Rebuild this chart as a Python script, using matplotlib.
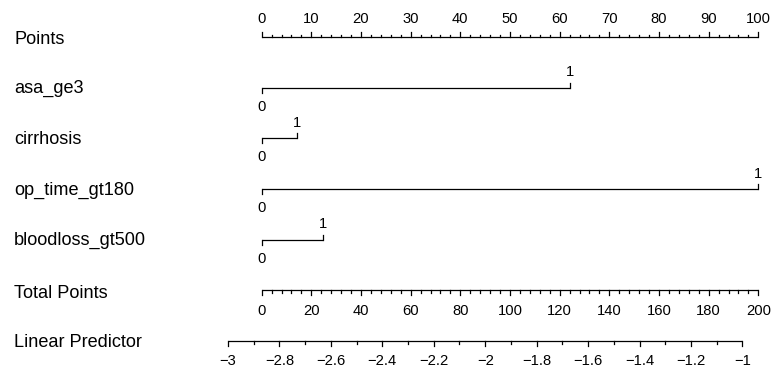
import matplotlib
matplotlib.use("Agg")
import matplotlib.pyplot as plt
import numpy as np

# ---- data ----
row_labels = ["Points", "asa_ge3", "cirrhosis", "op_time_gt180", "bloodloss_gt500",
              "Total Points", "Linear Predictor"]
variables = ["asa_ge3", "cirrhosis", "op_time_gt180", "bloodloss_gt500"]
levels = ["0", "1"]
points_at_level1 = [62.1, 7.2, 100.0, 12.4]

points_major = list(range(0, 101, 10))
points_minor = list(range(0, 101, 2))
total_major = list(range(0, 201, 20))
total_minor = list(range(0, 201, 4))
total_max = 200
lp_major = [-3.0, -2.8, -2.6, -2.4, -2.2, -2.0, -1.8, -1.6, -1.4, -1.2, -1.0]
lp_minor = [round(-3.0 + 0.1 * k, 1) for k in range(21)]
lp_at_total0 = -2.869
lp_per_total_point = 0.009654

# ---- layout ----
W, H, DPI = 783, 376, 100
fig = plt.figure(figsize=(W / DPI, H / DPI), dpi=DPI)
ax = fig.add_axes([0, 0, 1, 1])
ax.axis("off")

x0_px, px_per_point = 261.7, 4.966
ax.set_xlim(-x0_px / px_per_point, (W - x0_px) / px_per_point)
row0_px, row_px = 37.0, 50.67
ax.set_ylim((H - row0_px) / row_px, -row0_px / row_px)

def py(px):
    return px / row_px

FONT = "Liberation Sans"
LAB = 13.1
TICK = 10.6
LC = "black"
LW = 0.9

def tolp_x(v):
    total = (v - lp_at_total0) / lp_per_total_point
    return total * 100.0 / total_max

def fmt(v):
    s = f"{v:g}"
    return s.replace("-", "\u2212")

# row labels
for i, lab in enumerate(row_labels):
    ax.text(-x0_px / px_per_point + 14 / px_per_point, i + py(3 if i in (0, 5) else 1),
            lab, ha="left", va="center", fontsize=LAB, family=FONT)

# Points axis (ticks up, labels above)
r = 0
ax.plot([0, 100], [r, r], color=LC, lw=LW, solid_capstyle="butt")
for t in points_minor:
    ln = 5 if t in points_major else 2.5
    ax.plot([t, t], [r, r - py(ln)], color=LC, lw=LW)
for t in points_major:
    ax.text(t, r - py(18), str(t), ha="center", va="center", fontsize=TICK, family=FONT)

# variable rows
for k, (name, p1) in enumerate(zip(variables, points_at_level1)):
    r = k + 1
    ax.plot([0, p1], [r, r], color=LC, lw=LW, solid_capstyle="butt")
    ax.plot([0, 0], [r, r + py(5)], color=LC, lw=LW)
    ax.plot([p1, p1], [r, r - py(5)], color=LC, lw=LW)
    ax.text(0, r + py(19), levels[0], ha="center", va="center", fontsize=TICK, family=FONT)
    ax.text(p1, r - py(15.5), levels[1], ha="center", va="center", fontsize=TICK, family=FONT)

# Total points axis (ticks down)
r = 5
sc = 100.0 / total_max
ax.plot([0, 100], [r, r], color=LC, lw=LW, solid_capstyle="butt")
for t in total_minor:
    ln = 5 if t in total_major else 2.5
    ax.plot([t * sc, t * sc], [r, r + py(ln)], color=LC, lw=LW)
for t in total_major:
    ax.text(t * sc, r + py(20.5), str(t), ha="center", va="center", fontsize=TICK, family=FONT)

# Linear predictor axis
r = 6
ax.plot([tolp_x(lp_minor[0]), tolp_x(lp_minor[-1])], [r, r], color=LC, lw=LW,
        solid_capstyle="butt")
for v in lp_minor:
    ln = 5 if any(abs(v - m) < 1e-9 for m in lp_major) else 2.5
    ax.plot([tolp_x(v)] * 2, [r, r + py(ln)], color=LC, lw=LW)
for v in lp_major:
    ax.text(tolp_x(v), r + py(19.5), fmt(v), ha="center", va="center", fontsize=TICK, family=FONT)

fig.savefig("out.png", dpi=DPI)
